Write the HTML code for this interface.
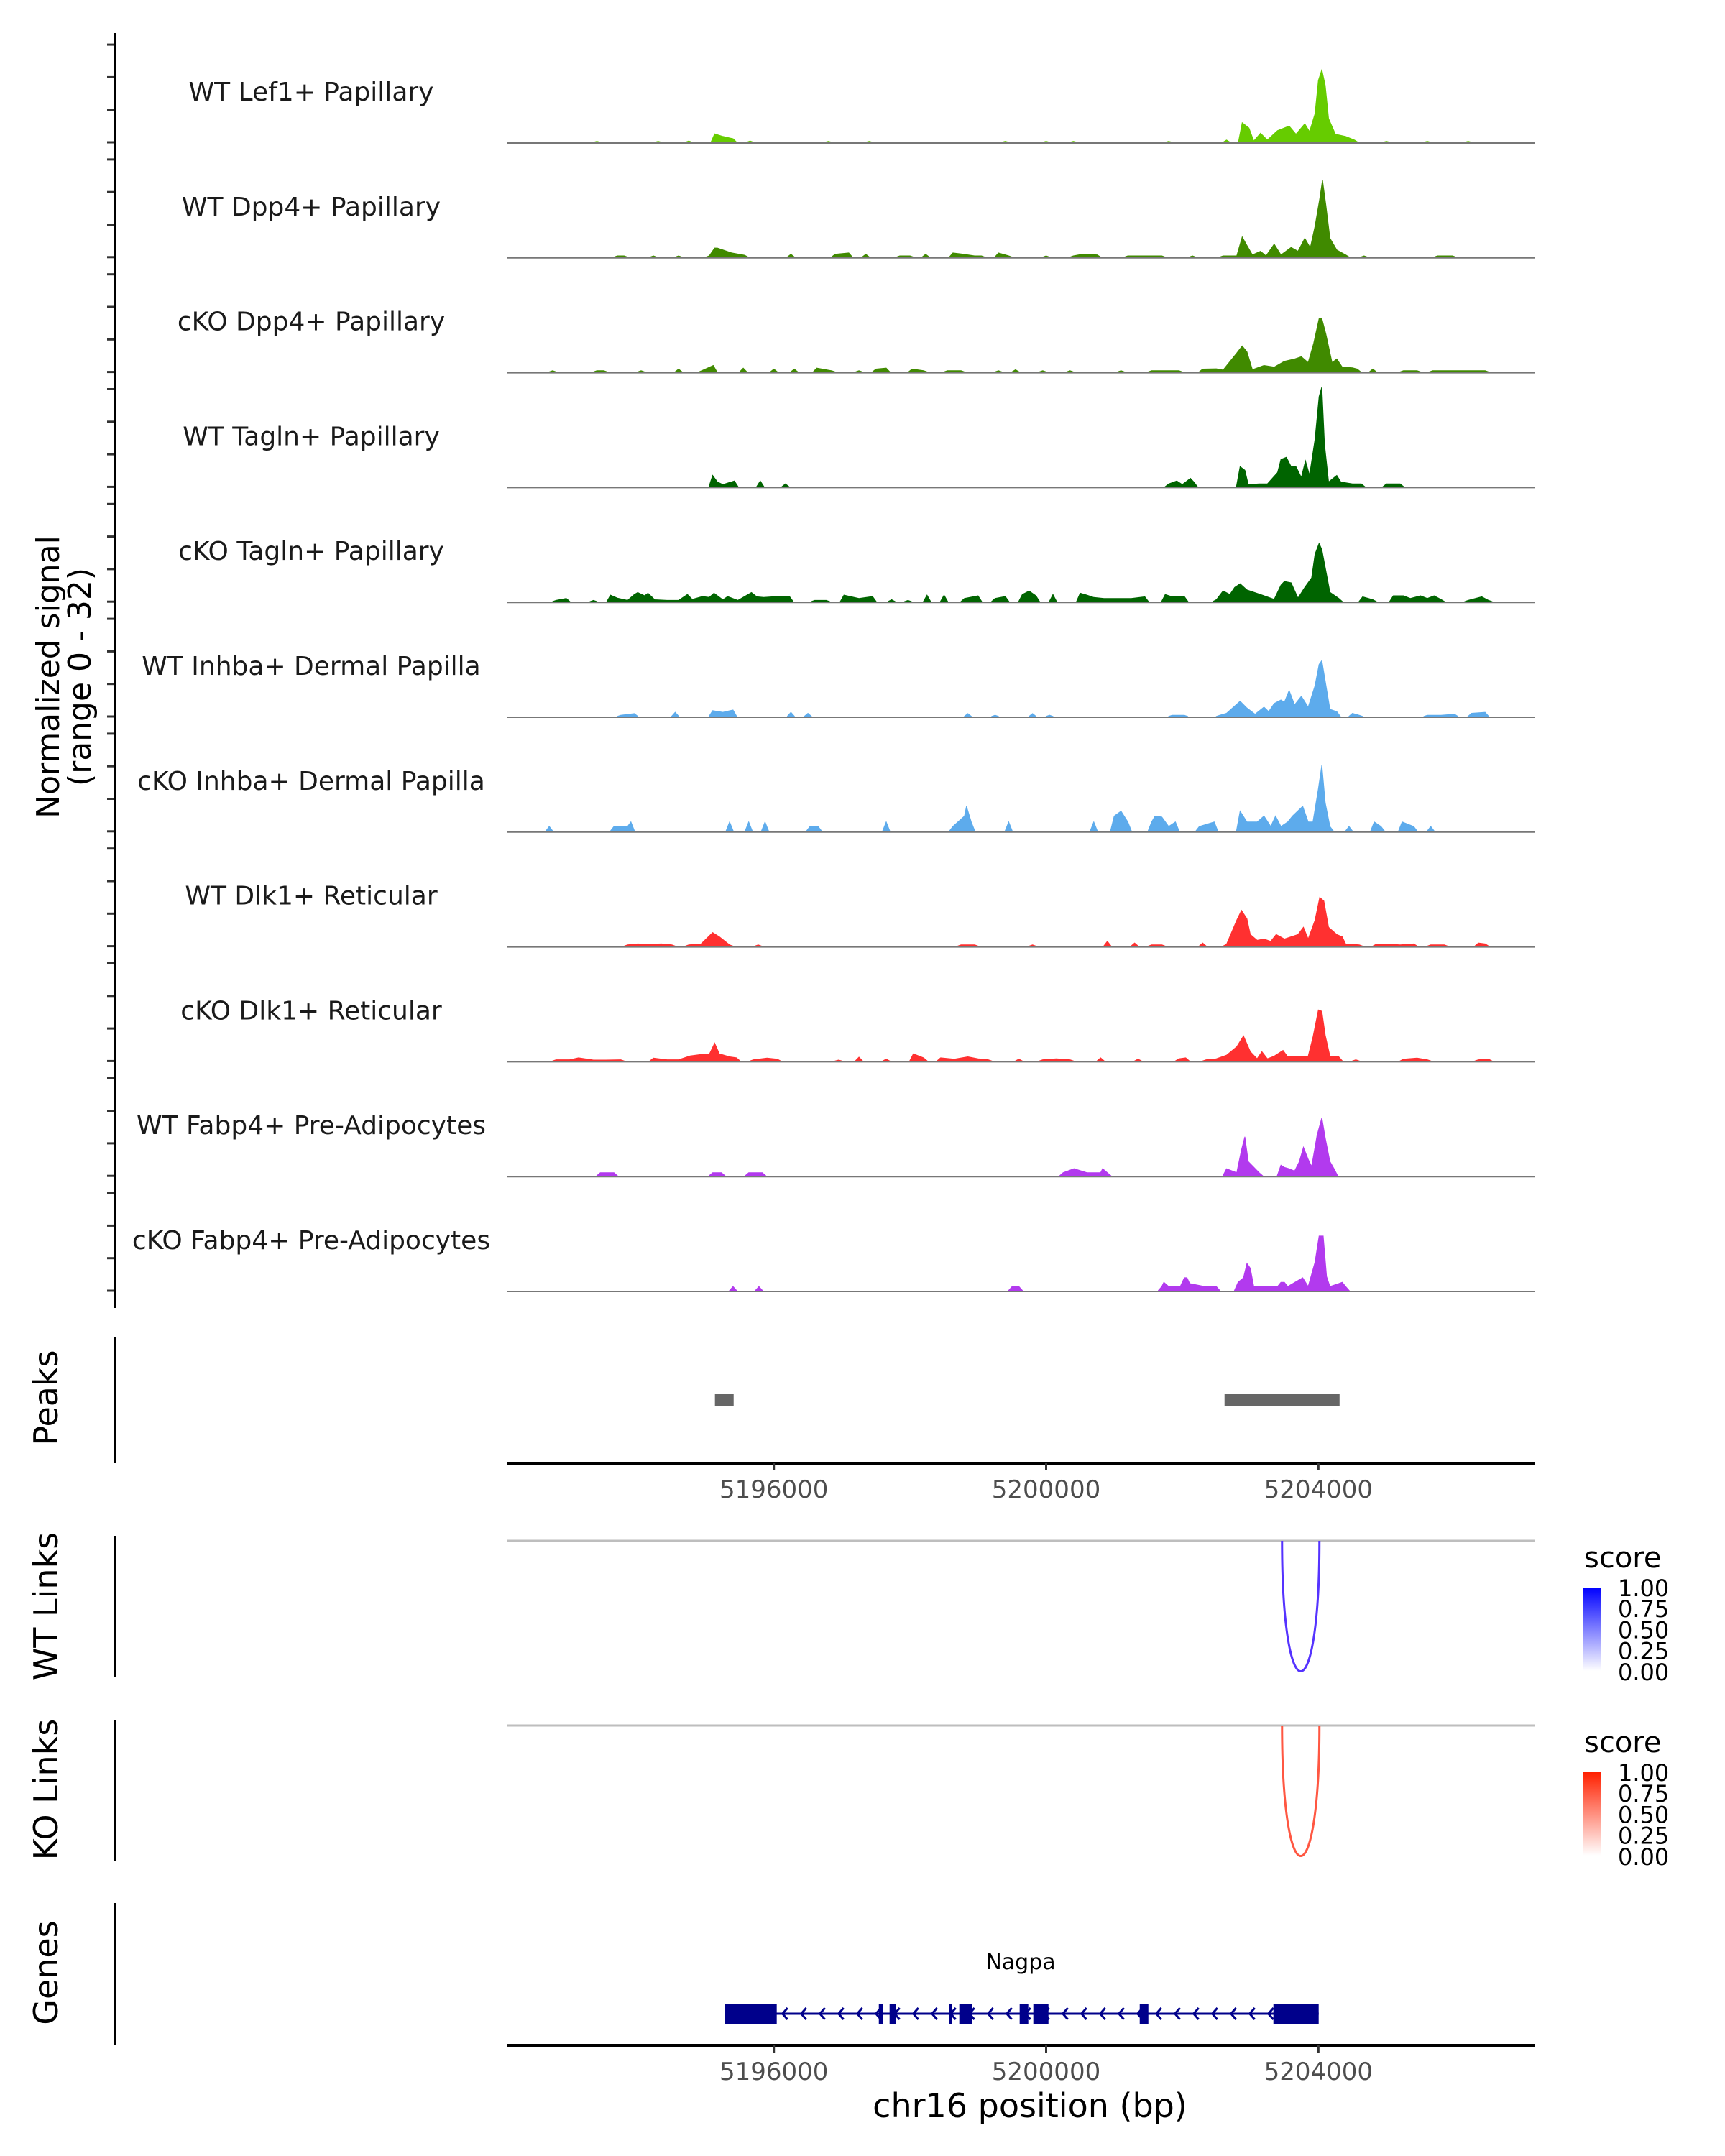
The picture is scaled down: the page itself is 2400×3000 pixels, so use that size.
<!DOCTYPE html>
<html><head><meta charset="utf-8"><style>
html,body{margin:0;padding:0;background:#fff}
svg{display:block;font-family:"DejaVu Sans","Liberation Sans",sans-serif}
</style></head><body>
<svg id="chart" width="2400" height="3000" viewBox="0 0 2400 3000" xmlns="http://www.w3.org/2000/svg">
<rect width="2400" height="3000" fill="#fff"/>
<g id="tracks"></g>
<g id="axes"></g>
<g id="other"></g>
</svg>
<script>
const trackNames = ["WT Lef1+ Papillary","WT Dpp4+ Papillary","cKO Dpp4+ Papillary","WT Tagln+ Papillary","cKO Tagln+ Papillary","WT Inhba+ Dermal Papilla","cKO Inhba+ Dermal Papilla","WT Dlk1+ Reticular","cKO Dlk1+ Reticular","WT Fabp4+ Pre-Adipocytes","cKO Fabp4+ Pre-Adipocytes"];
const trackColors = ["#66cc00","#408a00","#408a00","#006400","#006400","#5dabec","#5dabec","#ff3030","#ff3030","#b23aee","#b23aee"];
const xTicks = [5196000,5200000,5204000];
const peaksData = [[5195134,5195409],[5202621,5204311]];
const wtLinks = [[5203466,5204015,1.0]];
const koLinks = [[5203466,5204015,0.85]];
const exons = [[5195282,5196042],[5197542,5197605],[5197700,5197795],[5198577,5198619],[5198724,5198914],[5199611,5199738],[5199812,5200034],[5201375,5201502],[5203339,5204004]];
const geneName = "Nagpa";
const legendTicks = ["1.00","0.75","0.50","0.25","0.00"];

const t1 = [[5193400,.3],[5194300,.3],[5194750,.4],[5195130,2.6],[5195250,1.8],[5195400,1.1],[5195650,.4],[5196800,.3],[5197400,.3],[5199400,.3],[5200000,.3],[5200400,.3],[5201800,.3],[5202650,.7],[5202880,6],[5202980,4.4],[5203050,.4],[5203150,2.8],[5203250,.7],[5203400,3.6],[5203570,5],[5203670,2.5],[5203800,5.7],[5203870,3.3],[5203950,8.8],[5204000,19],[5204050,22.3],[5204100,17.5],[5204150,7.3],[5204250,2.5],[5204400,1.8],[5204530,.7],[5205000,.3],[5205600,.3],[5206200,.3]];
const t2 = [[5193700,.4],[5193800,.4],[5194230,.4],[5194600,.4],[5195050,.4],[5195130,2.8],[5195170,2.8],[5195380,1.3],[5195570,.6],[5196250,.9],[5196900,.9],[5197100,1.3],[5197350,.9],[5197850,.4],[5198000,.4],[5198230,.9],[5198630,1.3],[5198750,1],[5198950,.4],[5199050,.4],[5199300,1.3],[5199450,.4],[5200000,.4],[5200400,.4],[5200530,.9],[5200750,.7],[5201200,.4],[5201350,.4],[5201500,.4],[5201700,.4],[5202150,.4],[5202600,.4],[5202800,.4],[5202880,6.2],[5202950,3.6],[5203030,.7],[5203150,1.8],[5203230,.4],[5203350,4],[5203450,.7],[5203600,3],[5203700,1.8],[5203800,5.8],[5203880,2.9],[5203950,9.5],[5204020,18],[5204060,23.7],[5204110,16],[5204170,5.8],[5204270,2.2],[5204400,.7],[5204670,.4],[5205750,.4],[5205970,.4]];
const t3 = [[5192750,.4],[5193400,.4],[5193500,.4],[5194050,.4],[5194600,.9],[5194950,.5],[5195110,2],[5195550,1.2],[5196000,.9],[5196300,.9],[5196630,1.2],[5196850,.4],[5197250,.4],[5197500,.9],[5197650,1.2],[5198030,.9],[5198200,.4],[5198550,.4],[5198750,.4],[5199300,.4],[5199550,.7],[5199950,.4],[5200350,.4],[5201100,.4],[5201550,.4],[5201750,.4],[5201950,.4],[5202300,.9],[5202500,1],[5202600,.6],[5202800,5.8],[5202880,8],[5202950,6.2],[5203030,.7],[5203200,2],[5203350,1.5],[5203500,3.3],[5203650,4],[5203750,4.7],[5203850,2.9],[5203930,8.8],[5204010,16.4],[5204050,16.4],[5204110,11.7],[5204200,2.9],[5204270,4],[5204350,1.5],[5204500,1.3],[5204570,.9],[5204800,.9],[5205250,.4],[5205450,.4],[5205680,.4],[5205900,.4],[5206100,.4],[5206300,.4],[5206450,.4]];
const t4 = [[5195100,3.5],[5195170,1.5],[5195250,.7],[5195420,1.8],[5195800,1.8],[5196170,.9],[5201800,.9],[5201920,1.8],[5202000,.7],[5202120,2.6],[5202170,1.5],[5202850,6.2],[5202920,5.1],[5202970,.7],[5203130,.9],[5203250,.9],[5203400,4.4],[5203450,8.4],[5203530,9.1],[5203600,6.2],[5203670,6.2],[5203750,2.9],[5203810,8],[5203870,3.6],[5203950,14.6],[5204010,27.7],[5204050,30.7],[5204090,13.1],[5204150,1.5],[5204270,3.5],[5204330,1.5],[5204500,.9],[5204630,.9],[5205000,.9],[5205200,.9]];
const t5 = [[5192800,.4],[5192950,1],[5193350,.4],[5193600,2],[5193700,1.1],[5193850,.4],[5193950,2.2],[5194000,2.8],[5194100,1.8],[5194150,2.6],[5194250,.6],[5194430,.4],[5194600,.4],[5194730,2.2],[5194800,.7],[5194950,1.6],[5195050,1.3],[5195120,2.6],[5195250,.6],[5195320,1.6],[5195470,.4],[5195670,2.8],[5195750,1.5],[5195850,1.3],[5196050,1.6],[5196230,1.6],[5196600,.4],[5196770,.4],[5197030,2],[5197250,1],[5197450,1.6],[5197730,.6],[5197970,.4],[5198250,2],[5198500,2],[5198800,1],[5199000,1.8],[5199250,1],[5199400,1.6],[5199650,2.2],[5199750,3.3],[5199850,1.8],[5200100,2.2],[5200500,2.6],[5200600,2],[5200700,1.3],[5200850,1],[5201050,1],[5201250,1],[5201450,1.5],[5201750,2.2],[5201850,1.5],[5202030,1.6],[5202500,.6],[5202600,3.3],[5202700,2.2],[5202770,4.4],[5202850,5.5],[5202950,3.6],[5203150,2.2],[5203350,.7],[5203450,5.1],[5203500,6.2],[5203600,5.8],[5203700,1.1],[5203800,4.4],[5203900,7.3],[5203950,14.6],[5204010,17.9],[5204050,16],[5204090,11.7],[5204170,2.9],[5204300,1],[5204650,1.5],[5204800,.6],[5205100,1.8],[5205250,1.8],[5205350,1],[5205500,1.8],[5205600,1],[5205700,1.8],[5205800,.7],[5206200,.4],[5206400,1.5],[5206500,.4]];
const t6 = [[5193750,.4],[5193950,.9],[5194550,1.3],[5195100,1.8],[5195250,1.3],[5195400,2],[5196250,1.3],[5196500,1],[5198850,.9],[5199250,.4],[5199800,.9],[5200050,.4],[5201850,.4],[5202030,.4],[5202550,.4],[5202650,1],[5202850,4.7],[5202950,2.6],[5203070,.7],[5203200,2.9],[5203270,1.5],[5203350,4],[5203450,5.1],[5203500,4.4],[5203570,8],[5203650,3.6],[5203750,6.2],[5203850,2.9],[5203950,9.5],[5204010,16],[5204050,17.2],[5204100,10.9],[5204170,2.2],[5204270,1.5],[5204500,1],[5204600,.4],[5205600,.4],[5205800,.4],[5206000,.7],[5206250,1],[5206450,1.3]];
const t7 = [[5192700,1.5],[5193650,1.5],[5193850,1.5],[5193900,2.9],[5195350,2.9],[5195630,2.9],[5195870,2.9],[5196530,1.5],[5196650,1.5],[5197650,2.9],[5198630,1.5],[5198800,4.7],[5198830,7.7],[5198900,2.9],[5199450,2.9],[5200700,2.9],[5201000,4.7],[5201100,6.2],[5201200,2.9],[5201550,2.9],[5201600,4.7],[5201700,4.4],[5201800,1.5],[5201900,2.9],[5202250,1.5],[5202470,2.9],[5202850,6.2],[5202950,2.9],[5203100,2.9],[5203200,4.7],[5203300,1.5],[5203370,4.7],[5203450,1.5],[5203550,2.9],[5203620,4.7],[5203770,7.7],[5203850,2.9],[5203920,2.9],[5204000,13.1],[5204050,20.4],[5204100,8.8],[5204170,1.5],[5204450,1.5],[5204820,2.9],[5204920,1.5],[5205230,2.9],[5205400,1.5],[5205650,1.5]];
const t8 = [[5193850,.4],[5194000,.7],[5194150,.6],[5194350,.7],[5194500,.4],[5194750,.4],[5194930,.7],[5195100,4.2],[5195200,2.9],[5195350,.4],[5195770,.4],[5198750,.4],[5198950,.4],[5199800,.4],[5200900,1.5],[5201300,1],[5201550,.4],[5201700,.4],[5202300,1],[5202650,.6],[5202800,8],[5202870,11],[5202950,8.4],[5203000,3.6],[5203100,1.8],[5203200,2.2],[5203300,1.5],[5203380,3.6],[5203500,2.2],[5203600,2.9],[5203700,3.6],[5203780,5.8],[5203850,2.2],[5203950,8],[5204020,15],[5204080,13.9],[5204150,5.8],[5204270,3.6],[5204350,2.9],[5204400,.7],[5204600,.4],[5204850,.6],[5205050,.6],[5205200,.4],[5205400,.7],[5205650,.4],[5205850,.4],[5206350,1],[5206450,.7]];
const t9 = [[5192800,.4],[5193000,.4],[5193130,1],[5193350,.3],[5193530,.3],[5193750,.4],[5194230,.9],[5194430,.4],[5194600,.4],[5194770,1.6],[5194930,2],[5195050,2],[5195130,5.5],[5195200,2.2],[5195350,1.3],[5195450,1],[5195700,.4],[5195900,.9],[5196050,.6],[5196950,.3],[5197250,1.2],[5197650,.6],[5198050,2.2],[5198200,1],[5198450,1],[5198650,.6],[5198850,1.3],[5199000,.7],[5199150,.4],[5199600,.6],[5199950,.4],[5200150,.7],[5200350,.4],[5200800,1],[5201350,.6],[5201950,.7],[5202050,1],[5202350,.4],[5202500,.7],[5202650,1.8],[5202800,4.4],[5202900,7.7],[5203000,2.9],[5203100,.7],[5203170,2.9],[5203250,.7],[5203350,1.5],[5203480,3.3],[5203550,1.3],[5203650,1.3],[5203730,1.5],[5203850,1.5],[5203920,7.3],[5204000,15.7],[5204050,15.3],[5204100,8],[5204170,1.5],[5204300,1.3],[5204550,.4],[5205250,.6],[5205450,.9],[5205600,.4],[5206350,.4],[5206500,.6]];
const t10 = [[5193450,1],[5193650,1],[5195100,1],[5195230,1],[5195630,1],[5195830,1],[5200250,1],[5200410,2.2],[5200600,1],[5200800,1],[5200830,2.2],[5200900,1],[5202650,2.2],[5202800,1],[5202870,8],[5202920,12],[5202970,4.4],[5203130,1],[5203450,3.3],[5203500,2.6],[5203570,2.2],[5203650,1.5],[5203720,4.4],[5203780,8.8],[5203850,5.1],[5203900,2.9],[5203980,12.4],[5204050,17.9],[5204100,11.7],[5204170,4.4],[5204230,2.2]];
const t11 = [[5195400,1.3],[5195780,1.3],[5199500,1.3],[5199600,1.3],[5201700,1.3],[5201730,2.6],[5201800,1.3],[5201970,1.3],[5202030,4],[5202070,4],[5202110,2.2],[5202330,1.3],[5202500,1.3],[5202820,2.6],[5202900,4],[5202950,8.4],[5203000,6.9],[5203050,1.3],[5203200,1.3],[5203400,1.3],[5203450,2.6],[5203500,2.6],[5203550,1.3],[5203770,4],[5203850,1.3],[5203950,8.8],[5204010,16.8],[5204070,16.8],[5204120,4.4],[5204170,1.3],[5204300,2.2],[5204350,2.6],[5204400,1.3]];
const trackData = [t1,t2,t3,t4,t5,t6,t7,t8,t9,t10,t11];

const NS = "http://www.w3.org/2000/svg";
const X0 = 705, X1 = 2135, BP0 = 5192075, BP1 = 5207175;
function xScale(bp){ return X0 + (bp - BP0) / (BP1 - BP0) * (X1 - X0); }
const BASE0 = 198, TRACK_STEP = 159.8, PX_PER_UNIT = 4.53;
function yScale(v, i){ return BASE0 + TRACK_STEP * i - v * PX_PER_UNIT; }
function mk(tag, attrs, parent){ const e = document.createElementNS(NS, tag); for (const k in attrs) e.setAttribute(k, attrs[k]); parent.appendChild(e); return e; }

const tracksG = document.getElementById('tracks');
const axesG = document.getElementById('axes');
const otherG = document.getElementById('other');

trackData.forEach((pts, i) => {
  const b = yScale(0, i);
  const HALF = 55;
  let d = "";
  let prev = null;
  pts.forEach(p => {
    const x = xScale(p[0]), y = yScale(p[1], i);
    if (prev === null || p[0] - prev[0] > 220) {
      if (prev !== null) d += "L" + xScale(prev[0] + HALF).toFixed(1) + "," + b + " ";
      d += "M" + xScale(p[0] - HALF).toFixed(1) + "," + b + " ";
    }
    d += "L" + x.toFixed(1) + "," + y.toFixed(1) + " ";
    prev = p;
  });
  if (prev) d += "L" + xScale(prev[0] + HALF).toFixed(1) + "," + b + " Z";
  const area = mk('path', {d: d, fill: trackColors[i], stroke: trackColors[i], 'stroke-width': 1}, tracksG);
  
  
  const bl = mk('line', {x1: X0, x2: X1, y1: b + 1, y2: b + 1, stroke: '#777', 'stroke-width': 2}, tracksG);
  
  
  const lab = mk('text', {x: 433, y: b - 58, 'font-size': 36, fill: '#1a1a1a', 'text-anchor': 'middle'}, tracksG);
  lab.textContent = trackNames[i];
  
  
  [0, 10, 20, 30].forEach(v => {
    const yy = yScale(v, i);
    const tk = mk('line', {x1: 149, x2: 159, y1: yy, y2: yy, stroke: '#333', 'stroke-width': 3}, axesG);
    
    
  });
});

function vline(x, y1, y2, name){ const l = mk('line', {x1: x, x2: x, y1: y1, y2: y2, stroke: '#000', 'stroke-width': 3}, axesG);   }
vline(160, 46, 1820, 'signal-y-axis');
vline(160, 1861, 2036, 'peaks-y-axis');
vline(160, 2137, 2334, 'wt-links-y-axis');
vline(160, 2393, 2590, 'ko-links-y-axis');
vline(160, 2648, 2845, 'genes-y-axis');

function rotText(x, y, txt, size, name){ const t = mk('text', {x: x, y: y, 'font-size': size, fill: '#000', 'text-anchor': 'middle', transform: 'rotate(-90 ' + x + ' ' + y + ')'}, axesG); t.textContent = txt;   }
rotText(82, 942, 'Normalized signal', 44, 'y-axis-title');
rotText(126, 942, '(range 0 - 32)', 44, 'y-axis-subtitle');
rotText(80, 1945, 'Peaks', 46, 'peaks-title');
rotText(80, 2235, 'WT Links', 46, 'wt-links-title');
rotText(80, 2490, 'KO Links', 46, 'ko-links-title');
rotText(80, 2745, 'Genes', 46, 'genes-title');

function xAxis(y, name){
  const l = mk('line', {x1: X0, x2: X1, y1: y, y2: y, stroke: '#000', 'stroke-width': 4}, axesG);
   
  xTicks.forEach(t => {
    const x = xScale(t);
    const tk = mk('line', {x1: x, x2: x, y1: y, y2: y + 10, stroke: '#333', 'stroke-width': 3}, axesG);
     
    const tl = mk('text', {x: x, y: y + 48, 'font-size': 34, fill: '#4d4d4d', 'text-anchor': 'middle'}, axesG);
    tl.textContent = t;  
  });
}
xAxis(2036, 'peaks-x-axis');
xAxis(2846, 'genes-x-axis');
const xt = mk('text', {x: 1433, y: 2946, 'font-size': 46, fill: '#000', 'text-anchor': 'middle'}, axesG);
xt.textContent = 'chr16 position (bp)';
 

peaksData.forEach(p => {
  const r = mk('rect', {x: xScale(p[0]), y: 1940, width: xScale(p[1]) - xScale(p[0]), height: 17, fill: '#666'}, otherG);
   
});

const defs = mk('defs', {}, document.getElementById('chart'));
[['gradBlue', '#0000ff'], ['gradRed', '#ff2000']].forEach(g => {
  const lg = mk('linearGradient', {id: g[0], x1: 0, y1: 1, x2: 0, y2: 0}, defs);
  mk('stop', {offset: 0, 'stop-color': '#fff'}, lg);
  mk('stop', {offset: 1, 'stop-color': g[1]}, lg);
});
function linkPanel(links, y0, color, grad, prefix){
  const bl = mk('line', {x1: X0, x2: X1, y1: y0, y2: y0, stroke: '#bebebe', 'stroke-width': 3}, otherG);
   
  links.forEach(l => {
    const xa = xScale(l[0]), xb = xScale(l[1]), depth = 182;
    const p = mk('path', {d: 'M' + xa + ',' + y0 + ' C' + xa + ',' + (y0 + depth * 1.33) + ' ' + xb + ',' + (y0 + depth * 1.33) + ' ' + xb + ',' + y0, fill: 'none', stroke: color, 'stroke-width': 3, opacity: 0.5 + l[2] / 2}, otherG);
     
  });
  const lt = mk('text', {x: 2204, y: y0 + 37, 'font-size': 40, fill: '#000'}, otherG);
  lt.textContent = 'score';  
  const cb = mk('rect', {x: 2203, y: y0 + 65, width: 24, height: 116, fill: 'url(#' + grad + ')'}, otherG);
   
  legendTicks.forEach((t, k) => {
    const yy = y0 + 66 + k * 29.2;
    const tx = mk('text', {x: 2251, y: yy + 11, 'font-size': 32, fill: '#000'}, otherG);
    tx.textContent = t;  
  });
}
linkPanel(wtLinks, 2144, '#5533ff', 'gradBlue', 'wt-links');
linkPanel(koLinks, 2401, '#ff4a33', 'gradRed', 'ko-links');

const gx0 = xScale(exons[0][0]), gx1 = xScale(exons[exons.length - 1][1]);
const intron = mk('line', {x1: gx0, x2: gx1, y1: 2802, y2: 2802, stroke: '#00008b', 'stroke-width': 3}, otherG);
 
let ad = '';
for (let x = gx0 + 30; x < gx1 - 10; x += 26) ad += 'M' + (x + 5) + ',2794 L' + (x - 2) + ',2802 L' + (x + 5) + ',2810 ';
const arr = mk('path', {d: ad, fill: 'none', stroke: '#00008b', 'stroke-width': 3}, otherG);
 
exons.forEach(e => {
  const r = mk('rect', {x: xScale(e[0]), y: 2788, width: Math.max(4, xScale(e[1]) - xScale(e[0])), height: 28, fill: '#00008b'}, otherG);
   
});
const gn = mk('text', {x: 1420, y: 2740, 'font-size': 30, fill: '#000', 'text-anchor': 'middle'}, otherG);
gn.textContent = geneName;  
</script>
</body></html>
